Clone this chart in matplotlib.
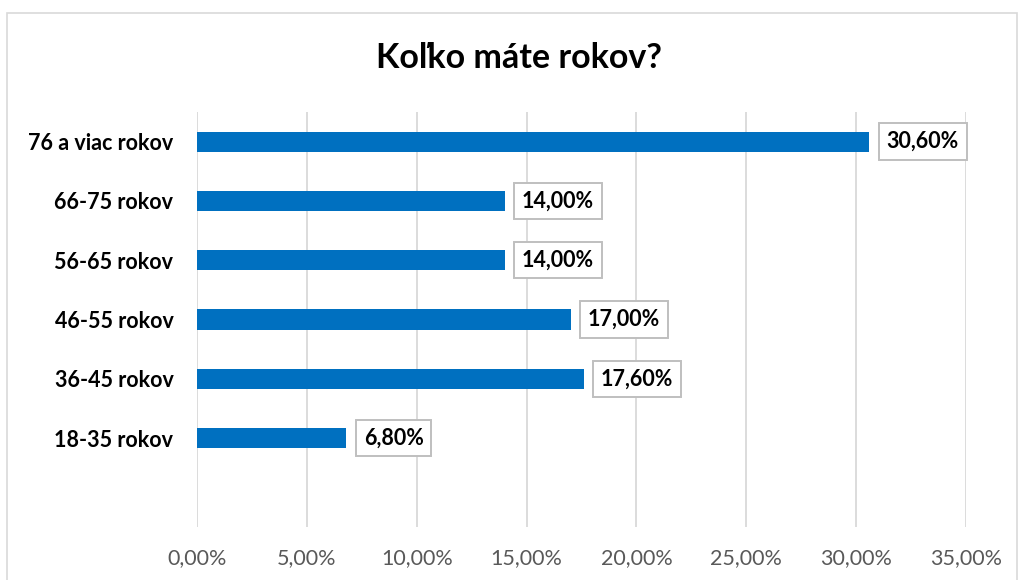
import matplotlib.pyplot as plt
from matplotlib.patches import Rectangle

# Data (bottom to top)
categories = ["18-35 rokov", "36-45 rokov", "46-55 rokov", "56-65 rokov", "66-75 rokov", "76 a viac rokov"]
values = [6.80, 17.60, 17.00, 14.00, 14.00, 30.60]
xticks = [0, 5, 10, 15, 20, 25, 30, 35]

plt.rcParams['font.family'] = ['Lato', 'DejaVu Sans']

W, H = 1019, 580
fig = plt.figure(figsize=(W / 100, H / 100), dpi=100)
ax = fig.add_axes([197 / W, 1 - 527 / H, (966 - 197) / W, (527 - 112) / H])

# chart border
fig.patches.append(Rectangle((7 / W, -0.01), (1017 - 7) / W, 1 - 13 / H + 0.01,
                             transform=fig.transFigure, fill=False,
                             edgecolor='#D9D9D9', linewidth=1.2))

pos = list(range(len(categories)))
ax.barh(pos, values, height=0.34, color='#0070C0', zorder=3)

for p, v in zip(pos, values):
    ax.annotate(f"{v:.2f}".replace('.', ',') + "%", xy=(v, p), xytext=(12.5, 0),
                textcoords='offset points', ha='left', va='center',
                fontsize=15.5, fontweight='bold', color='black', zorder=4,
                bbox=dict(boxstyle='square,pad=0.36', facecolor='white',
                          edgecolor='#BFBFBF', linewidth=1.4))

ax.set_xlim(0, 35)
ax.set_ylim(-1.5, 5.5)
ax.set_xticks(xticks)
ax.set_xticklabels([f"{t:.2f}".replace('.', ',') + "%" for t in xticks],
                   fontsize=15.5, color='#595959')
ax.set_yticks(pos)
ax.set_yticklabels(categories, fontsize=15.5, fontweight='bold', color='black')
ax.tick_params(axis='both', length=0)
ax.tick_params(axis='x', pad=15)
ax.tick_params(axis='y', pad=17)
ax.grid(axis='x', color='#D9D9D9', linewidth=1.3, zorder=0)
for s in ax.spines.values():
    s.set_visible(False)

fig.text(519 / W, 1 - 58 / H, "Koľko máte rokov?", ha='center', va='center',
         fontsize=24.5, fontweight='bold', color='black')

fig.savefig("out.png", dpi=100)
